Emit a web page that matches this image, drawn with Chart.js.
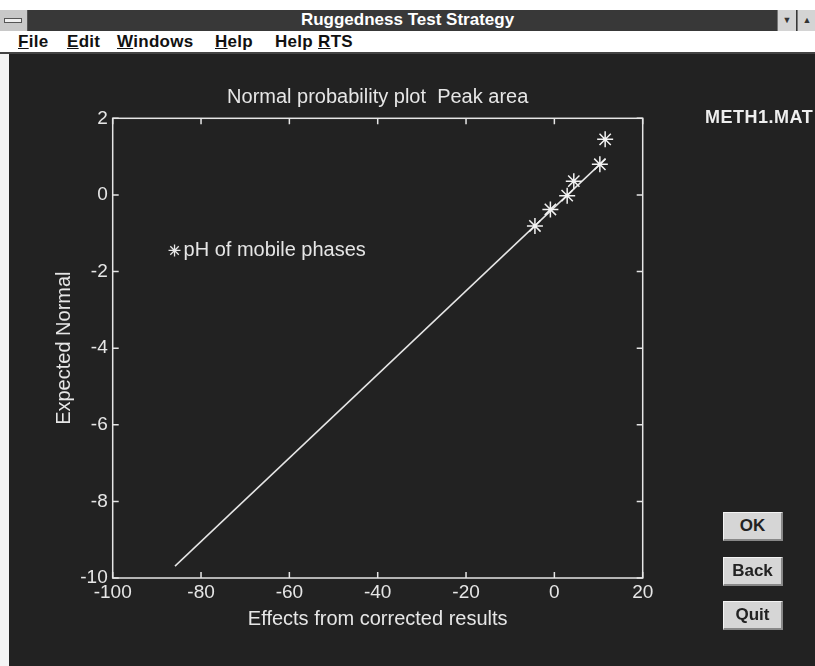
<!DOCTYPE html>
<html>
<head>
<meta charset="utf-8">
<script src="https://cdn.jsdelivr.net/npm/chart.js@4.4.1/dist/chart.umd.min.js"></script>
<style>
  html, body { margin:0; padding:0; width:815px; height:666px; overflow:hidden; background:#fff; }
  #titlebar { position:absolute; left:0; top:10px; width:815px; height:21px; background:#383838; }
  #titlebar .txt { position:absolute; left:0; width:815px; top:0; line-height:21px; text-align:center; color:#fff; font:bold 17px "Liberation Sans Narrow","Liberation Sans",Arial,sans-serif; }
  #sysbox { position:absolute; left:0; top:10px; width:27px; height:21px; background:#c8c8c8; border-right:1px solid #555; }
  #sysbox div { position:absolute; left:4px; top:8px; width:16px; height:3px; border:1px solid #555; background:#eee; }
  .wbtn { position:absolute; top:10px; width:18px; height:21px; background:#d4d4d4; border-left:1px solid #777; color:#333; font:9px sans-serif; text-align:center; line-height:21px; }
  #menubar { position:absolute; left:0; top:31px; width:815px; height:21px; background:#fff; border-bottom:2px solid #444; }
  .mi { position:absolute; top:1px; font:bold 17px "Liberation Sans Narrow","Liberation Sans",Arial,sans-serif; color:#111; letter-spacing:0.3px; }
  .mi u { text-decoration:underline; }
  #dark { position:absolute; left:9px; top:54px; width:806px; height:612px; background:#222222; }
  #leftstrip { position:absolute; left:0; top:54px; width:9px; height:612px; background:#f4f4f4; }
  canvas { position:absolute; left:0; top:0; }
  .btn { position:absolute; left:723px; width:60px; height:29px; background:#d6d6d6; border-top:1px solid #f4f4f4; border-left:1px solid #f4f4f4; border-bottom:2px solid #888; border-right:2px solid #888; box-sizing:border-box; display:flex; align-items:center; justify-content:center; font:bold 17px "Liberation Sans Narrow","Liberation Sans",Arial,sans-serif; color:#222; }
  #meth { position:absolute; left:705px; top:107px; color:#eee; font:bold 18px "Liberation Sans Narrow","Liberation Sans",Arial,sans-serif; white-space:nowrap; letter-spacing:0.5px; }
</style>
</head>
<body>
<div id="titlebar"><div class="txt">Ruggedness Test Strategy</div></div>
<div id="sysbox"><div></div></div>
<div class="wbtn" style="left:777px;">&#9660;</div>
<div class="wbtn" style="left:797px;">&#9650;</div>
<div id="menubar">
  <span class="mi" style="left:18px;"><u>F</u>ile</span>
  <span class="mi" style="left:67px;"><u>E</u>dit</span>
  <span class="mi" style="left:117px;"><u>W</u>indows</span>
  <span class="mi" style="left:215px;"><u>H</u>elp</span>
  <span class="mi" style="left:275px;">Help <u>R</u>TS</span>
</div>
<div id="leftstrip"></div>
<div id="dark"></div>
<canvas id="c" width="815" height="666"></canvas>
<div id="meth">METH1.MAT</div>
<div class="btn" style="top:512px;">OK</div>
<div class="btn" style="top:557px;">Back</div>
<div class="btn" style="top:601px;">Quit</div>
<script>
// ---- data ----
const effects = [11.5, 10.3, 4.4, 2.9, -0.9, -4.4];
const expectedNormal = [1.45, 0.80, 0.36, -0.02, -0.38, -0.81];
const fitX = [-85.9, 11.6];
const fitY = [-9.69, 0.94];
const xTicks = [-100, -80, -60, -40, -20, 0, 20];
const yTicks = [-10, -8, -6, -4, -2, 0, 2];
const chartTitle = 'Normal probability plot  Peak area';
const xTitle = 'Effects from corrected results';
const yTitle = 'Expected Normal';
const legendText = 'pH of mobile phases';
const legendPos = [-86, -1.45];

const FG = '#e6e6e6';
const FONT = '"Liberation Sans", Arial, sans-serif';
const FS = 19;
const FS_BIG = 20;

const framePlugin = {
  id: 'frame',
  afterDraw(chart) {
    const ctx = chart.ctx, a = chart.chartArea;
    const xs = chart.scales.x, ys = chart.scales.y;
    ctx.save();
    ctx.strokeStyle = FG; ctx.lineWidth = 1.5;
    ctx.strokeRect(a.left, a.top, a.right - a.left, a.bottom - a.top);
    const L = 6;
    ctx.beginPath();
    xTicks.forEach(v => {
      const p = xs.getPixelForValue(v);
      ctx.moveTo(p, a.bottom); ctx.lineTo(p, a.bottom - L);
      ctx.moveTo(p, a.top); ctx.lineTo(p, a.top + L);
    });
    yTicks.forEach(v => {
      const p = ys.getPixelForValue(v);
      ctx.moveTo(a.left, p); ctx.lineTo(a.left + L, p);
      ctx.moveTo(a.right, p); ctx.lineTo(a.right - L, p);
    });
    ctx.stroke();
    // title
    ctx.fillStyle = FG;
    ctx.font = FS_BIG + 'px ' + FONT;
    ctx.textAlign = 'center'; ctx.textBaseline = 'middle';
    ctx.fillText(chartTitle, (a.left + a.right) / 2, a.top - 21);
    // legend inside axes
    const lx = xs.getPixelForValue(legendPos[0]);
    const ly = ys.getPixelForValue(legendPos[1]);
    ctx.strokeStyle = FG; ctx.lineWidth = 1.3;
    Chart.helpers.drawPoint(ctx, {pointStyle: 'star', radius: 6, borderWidth: 1.3}, lx, ly);
    ctx.textAlign = 'left';
    ctx.fillText(legendText, lx + 9, ly);
    ctx.restore();
  }
};

new Chart(document.getElementById('c'), {
  type: 'scatter',
  data: {
    datasets: [
      {
        label: 'fit',
        data: fitX.map((x, i) => ({x: x, y: fitY[i]})),
        showLine: true,
        borderColor: FG,
        borderWidth: 1.5,
        pointRadius: 0,
        order: 2
      },
      {
        label: legendText,
        data: effects.map((x, i) => ({x: x, y: expectedNormal[i]})),
        pointStyle: 'star',
        pointRadius: 8,
        pointBorderColor: '#f2f2f2',
        pointBackgroundColor: '#f2f2f2',
        pointBorderWidth: 1.5,
        showLine: false,
        order: 1
      }
    ]
  },
  options: {
    responsive: false,
    animation: false,
    layout: { padding: { left: 0, top: 118.3, right: 172.3, bottom: 0 } },
    plugins: { legend: { display: false }, tooltip: { enabled: false }, title: { display: false } },
    scales: {
      x: {
        type: 'linear', min: -100, max: 20,
        afterFit(s) { s.height = 88; },
        afterBuildTicks(s) { s.ticks = xTicks.map(v => ({value: v})); },
        grid: { display: false, drawTicks: false },
        border: { display: false },
        ticks: { color: FG, font: { family: FONT, size: FS }, padding: 3, maxRotation: 0, autoSkip: false },
        title: { display: true, text: xTitle, color: FG, font: { family: FONT, size: FS_BIG }, padding: { top: 0, bottom: 35 } }
      },
      y: {
        type: 'linear', min: -10, max: 2,
        afterFit(s) { s.width = 112.7; },
        afterBuildTicks(s) { s.ticks = yTicks.map(v => ({value: v})); },
        grid: { display: false, drawTicks: false },
        border: { display: false },
        ticks: { color: FG, font: { family: FONT, size: FS }, padding: 5, autoSkip: false },
        title: { display: true, text: yTitle, color: FG, font: { family: FONT, size: FS_BIG }, padding: { top: 52, bottom: 0 } }
      }
    }
  },
  plugins: [framePlugin]
});
</script>
</body>
</html>
